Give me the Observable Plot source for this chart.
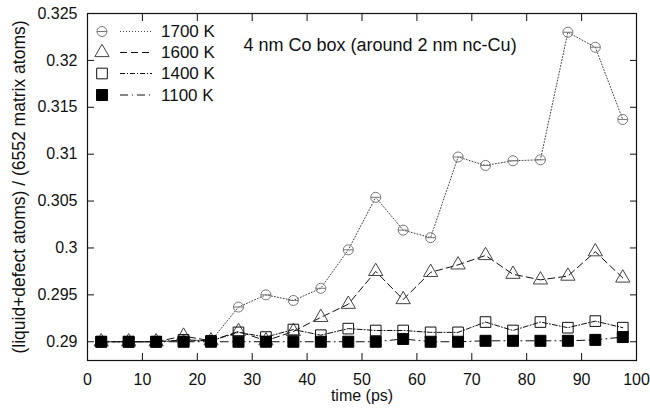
<!DOCTYPE html>
<html><head><meta charset="utf-8">
<script src="https://cdn.jsdelivr.net/npm/d3@7"></script>
<script src="https://cdn.jsdelivr.net/npm/@observablehq/plot@0.6"></script>
<style>
body{margin:0;background:#fff}
#wrap{width:650px;height:410px}
svg{font-family:"Liberation Sans",Arial,sans-serif}
</style>
</head><body><div id="wrap"></div>
<script>
const time = [2.5,7.5,12.5,17.5,22.5,27.5,32.5,37.5,42.5,47.5,52.5,57.5,62.5,67.5,72.5,77.5,82.5,87.5,92.5,97.5];
const k1700 = [0.2900,0.2900,0.2900,0.2901,0.2901,0.2937,0.2950,0.2944,0.2957,0.2998,0.3054,0.3019,0.3011,0.3097,0.3088,0.3093,0.3094,0.3230,0.3214,0.3137];
const k1600 = [0.2900,0.2900,0.2900,0.2906,0.2901,0.2911,0.2901,0.2911,0.2926,0.2940,0.2975,0.2945,0.2974,0.2982,0.2992,0.2972,0.2966,0.2970,0.2996,0.2968];
const k1400 = [0.2900,0.2900,0.2900,0.2902,0.2901,0.2910,0.2905,0.2913,0.2907,0.2914,0.2912,0.2912,0.2910,0.2910,0.2921,0.2912,0.2921,0.2915,0.2922,0.2915];
const k1100 = [0.2900,0.2900,0.2900,0.2900,0.2900,0.2900,0.2900,0.2900,0.2900,0.2900,0.2900,0.2903,0.2900,0.2900,0.2901,0.2901,0.2901,0.2901,0.2902,0.2905];
const seriesNames = ["1700 K","1600 K","1400 K","1100 K"];
const xTicks = [0,10,20,30,40,50,60,70,80,90,100];
const yTicks = [0.29,0.295,0.3,0.305,0.31,0.315,0.32,0.325];
const title = "4 nm Co box (around 2 nm nc-Cu)";
const xLabel = "time (ps)";
const yLabel = "(liquid+defect atoms) / (6552 matrix atoms)";

const circleBar = {
  draw(ctx, size) {
    const r = Math.sqrt(size / Math.PI);
    ctx.moveTo(r, 0);
    ctx.arc(0, 0, r, 0, 2 * Math.PI);
    ctx.moveTo(-r, 0);
    ctx.lineTo(r, 0);
  }
};

const styles = [
  {vals: k1700, symbol: circleBar, r: 5, markStroke: "#777", fill: "none", line: "#444", dash: "1,2"},
  {vals: k1600, symbol: "triangle", r: 5.3, markStroke: "#444", fill: "none", line: "#111", dash: "7,4"},
  {vals: k1400, symbol: "square", r: 6, markStroke: "#111", fill: "none", line: "#111", dash: "5,2,1,2"},
  {vals: k1100, symbol: "square", r: 6.2, markStroke: "#000", fill: "#000", line: "#111", dash: "8,4,1,4"}
];

const fs = 16;
const marks = [];
styles.forEach((s, i) => {
  const rows = time.map((t, j) => ({t, v: s.vals[j], name: seriesNames[i]}));
  marks.push(Plot.line(rows, {x: "t", y: "v", stroke: s.line, strokeWidth: 1, strokeDasharray: s.dash}));
  marks.push(Plot.dot(rows, {x: "t", y: "v", symbol: () => s.symbol, r: s.r, stroke: s.markStroke, fill: s.fill, strokeWidth: 1}));
});

const chart = Plot.plot({
  width: 650, height: 410,
  marginLeft: 87, marginRight: 14, marginTop: 13, marginBottom: 50,
  style: {fontFamily: '"Liberation Sans", Arial, sans-serif', fontSize: fs + "px", color: "#111"},
  x: {domain: [0, 100]},
  y: {domain: [0.288, 0.325]},
  symbol: {type: "identity"},
  marks: [
    ...marks,
    Plot.frame({stroke: "#111", strokeWidth: 1.2}),
    Plot.axisY(yTicks, {anchor: "left", tickSize: -7, tickPadding: 17, tickFormat: d => String(+d.toFixed(3)), label: null, fontSize: fs}),
    Plot.axisY(yTicks, {anchor: "right", tickSize: -7, tickFormat: () => "", label: null}),
    Plot.axisX(xTicks, {anchor: "bottom", tickSize: -7, tickPadding: 20, tickFormat: d => String(d), label: null, fontSize: fs}),
    Plot.axisX(xTicks, {anchor: "top", tickSize: -7, tickFormat: () => "", label: null}),
    Plot.text([xLabel], {frameAnchor: "bottom", dy: 40, fontSize: fs, fill: "#111"}),
    Plot.text([yLabel], {frameAnchor: "left", dx: -68, rotate: -90, textAnchor: "middle", fontSize: 17.5, fill: "#111"}),
    Plot.text([title], {frameAnchor: "top-left", dx: 156, dy: 25, textAnchor: "start", fontSize: 18, fill: "#111"})
  ]
});
document.getElementById("wrap").appendChild(chart);

// legend
const svg = d3.select(chart);
const lg = svg.append("g").attr("text-anchor", "start");
const rowsY = [31.5, 52.5, 73.5, 95];
styles.forEach((s, i) => {
  const y = rowsY[i];
  const sym = typeof s.symbol === "string" ? (s.symbol === "triangle" ? d3.symbolTriangle : d3.symbolSquare) : s.symbol;
  lg.append("path")
    .attr("d", d3.symbol(sym, Math.PI * s.r * s.r)())
    .attr("transform", `translate(102,${y})`)
    .attr("stroke", s.markStroke).attr("fill", s.fill);
  lg.append("line").attr("x1", 120).attr("x2", 152).attr("y1", y).attr("y2", y)
    .attr("stroke", s.line).attr("stroke-dasharray", s.dash);
  lg.append("text").attr("x", 161).attr("y", y).attr("dy", "0.35em")
    .attr("text-anchor", "start")
    .attr("font-size", 17).attr("fill", "#111").text(seriesNames[i]);
});
</script></body></html>
